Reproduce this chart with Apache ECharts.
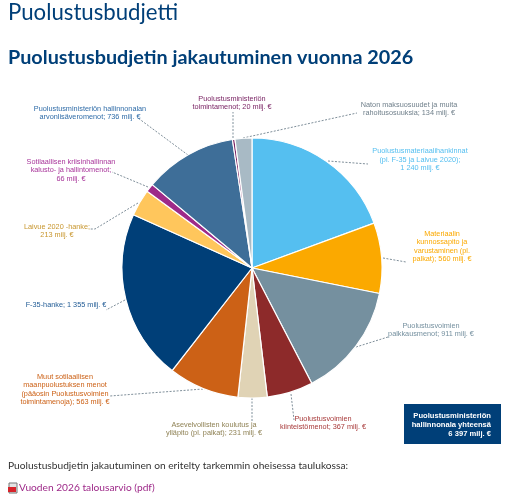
<!DOCTYPE html>
<html><head><meta charset="utf-8">
<style>html,body{margin:0;padding:0;background:#fff}#c{width:506px;height:500px}</style>
<script src="https://cdn.jsdelivr.net/npm/echarts@6/dist/echarts.min.js"></script>
</head><body><div id="c"></div>
<script>
const categories = [
 "Puolustusmateriaalihankinnat\n(pl. F-35 ja Laivue 2020);\n1 240 milj. €",
 "Materiaalin\nkunnossapito ja\nvarustaminen (pl.\npalkat); 560 milj. €",
 "Puolustusvoimien\npalkkausmenot; 911 milj. €",
 "Puolustusvoimien\nkiinteistömenot; 367 milj. €",
 "Asevelvollisten koulutus ja\nylläpito (pl. palkat); 231 milj. €",
 "Muut sotilaallisen\nmaanpuolustuksen menot\n(pääosin Puolustusvoimien\ntoimintamenoja); 563 milj. €",
 "F-35-hanke; 1 355 milj. €",
 "Laivue 2020 -hanke;\n213 milj. €",
 "Sotilaallisen kriisinhallinnan\nkalusto- ja hallintomenot;\n66 milj. €",
 "Puolustusministeriön hallinnonalan\narvonlisäveromenot; 736 milj. €",
 "Puolustusministeriön\ntoimintamenot; 20 milj. €",
 "Naton maksuosuudet ja muita\nrahoitusosuuksia; 134 milj. €"
];
const values = [1240,560,911,367,231,563,1355,213,66,736,20,134];
const sliceColors = ["#55BFF0","#FBA900","#75909F","#8D2A2A","#E0D3B5","#CC6116","#003F78","#FFC65C","#9E2A89","#3E6E98","#7A2464","#A8BAC5"];
const labelColors = ["#55BFF0","#FBA900","#75909F","#A83A3A","#8F8255","#CC6116","#1F5A94","#C8962E","#A8359A","#2F6CA8","#7A2464","#6F7F8A"];
const labelCenters = [[420,159.5],[442,246.5],[431,330],[323,423],[214,429],[65,389.5],[66,305],[57,231],[71,170],[90,113],[232,103],[409,109]];
const leaderLines = [
 [[328,161],[368,164]],[[383,258],[406,262]],[[356,347],[388,337]],[[291,394],[294,420]],
 [[252,398],[252,421]],[[203,389],[110,396]],[[125,300],[106,310]],[[138,203],[95,229],[90,229]],
 [[148,187],[112,172]],[[188,155],[138,118]],[[233,138],[233,112]],[[243,138],[357,113]]
];
const boxLines = ["Puolustusministeriön","hallinnonala yhteensä","6 397 milj. €"];
const pageTitle = "Puolustusbudjetti";
const chartTitle = "Puolustusbudjetin jakautuminen vuonna 2026";
const bodyText = "Puolustusbudjetin jakautuminen on eritelty tarkemmin oheisessa taulukossa:";
const linkText = "Vuoden 2026 talousarvio (pdf)";

const chart = echarts.init(document.getElementById('c'), null, {renderer:'canvas'});
const data = values.map((v,i)=>({
  name:categories[i], value:v,
  itemStyle:{color:sliceColors[i]},
  label:{color:labelColors[i]}
}));
chart.setOption({
  animation:false,
  backgroundColor:'#fff',
  graphic:[
    {type:'text',left:8,top:2,style:{text:pageTitle,font:'400 22.2px Lato',fill:'#003F78'}},
    {type:'text',left:8,top:48,style:{text:chartTitle,font:'700 19.8px Lato',fill:'#003F78'}},
    {type:'text',left:8,top:461,style:{text:bodyText,font:'400 10.2px Lato',fill:'#333'}},
    {type:'text',left:19,top:483,style:{text:linkText,font:'400 10.2px Lato',fill:'#9E2A89'}},
    {type:'rect',shape:{x:404,y:404,width:97,height:40},style:{fill:'#003F78'}},
    {type:'text',x:491,y:411.5,style:{text:boxLines.join('\n'),font:'700 7.6px "Liberation Sans"',fill:'#fff',align:'right',lineHeight:9}},
    {type:'rect',shape:{x:9,y:483,width:8,height:10},style:{fill:'#e4e4e4',stroke:'#777',lineWidth:1}},
    {type:'rect',shape:{x:8,y:487,width:8,height:5},style:{fill:'#D8232A'}}
  ],
  series:[{
    type:'pie',
    center:[252,268],
    radius:[0,130],
    startAngle:90,
    clockwise:true,
    minAngle:0,
    avoidLabelOverlap:false,
    itemStyle:{borderColor:'#fff',borderWidth:1.2},
    label:{show:true,position:'outside',formatter:'{b}',fontFamily:'Liberation Sans',fontSize:7.3,lineHeight:8.5,align:'center',verticalAlign:'middle'},
    labelLine:{show:true,lineStyle:{color:'#7F8F9A',type:[2,1.5],width:1}},
    labelLayout:function(p){
      const c=labelCenters[p.dataIndex];
      const pts=leaderLines[p.dataIndex];
      return {x:c[0],y:c[1],align:'center',verticalAlign:'middle',hideOverlap:false,moveOverlap:false,labelLinePoints:pts.length===3?pts:[pts[0],pts[1],pts[1]]};
    },
    data:data
  }]
});
</script></body></html>
